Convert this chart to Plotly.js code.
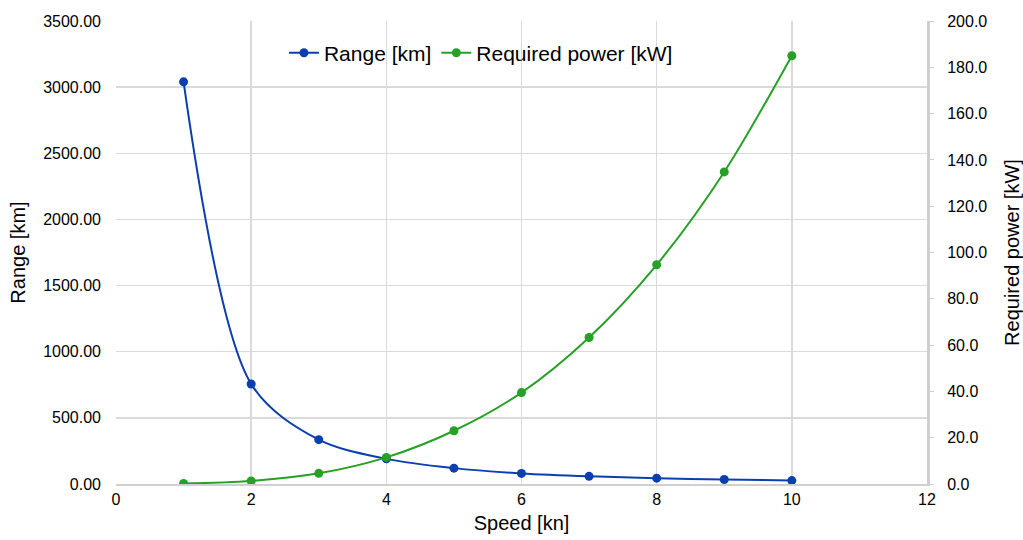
<!DOCTYPE html>
<html><head><meta charset="utf-8">
<script src="https://cdn.plot.ly/plotly-3.0.1.min.js"></script>
<style>html,body{margin:0;padding:0;background:#fff;}#chart{width:1023px;height:540px;}</style>
</head><body><div id="chart"></div>
<script>
const speed = [1,2,3,4,5,6,7,8,9,10];
const rangeKm = [3040, 756, 335, 190, 120, 80, 58, 44, 34, 26];
const powerKw = [0.2, 1.3, 4.6, 11.5, 23.0, 39.5, 63.3, 94.7, 134.8, 185.0];
const leftTicks = [0,500,1000,1500,2000,2500,3000,3500];
const rightTicks = [0,20,40,60,80,100,120,140,160,180,200];
const fnt = {family:'Liberation Sans, Arial, sans-serif', color:'#000'};
const traces = [
 {x:speed, y:rangeKm, name:'Range [km]', type:'scatter', mode:'lines+markers',
  line:{color:'#0b3fae', width:2, shape:'spline', smoothing:0.9}, marker:{color:'#0b3fae', size:9}, yaxis:'y'},
 {x:speed, y:powerKw, name:'Required power [kW]', type:'scatter', mode:'lines+markers',
  line:{color:'#26a026', width:2, shape:'spline', smoothing:0.9}, marker:{color:'#26a026', size:9}, yaxis:'y2'}
];
const layout = {
 width:1023, height:540, margin:{l:116, r:96, t:21, b:56},
 paper_bgcolor:'#fff', plot_bgcolor:'#fff', showlegend:true,
 font:Object.assign({size:16}, fnt),
 legend:{orientation:'h', x:0.45, y:0.975, xanchor:'center', yanchor:'top', font:Object.assign({size:21}, fnt), bgcolor:'rgba(0,0,0,0)', itemwidth:30},
 xaxis:{range:[0,12], tickvals:[0,2,4,6,8,10,12], ticktext:['0','2','4','6','8','10','12'],
  showgrid:true, gridcolor:'#dadada', gridwidth:1.5, zeroline:false, showline:true, linecolor:'#d0d0d0', linewidth:2,
  ticks:'', tickfont:Object.assign({size:16}, fnt),
  title:{text:'Speed [kn]', font:Object.assign({size:20}, fnt), standoff:9}},
 yaxis:{range:[0,3500], tickvals:leftTicks, ticktext:leftTicks.map(v=>v.toFixed(2)),
  showgrid:true, gridcolor:'#dadada', gridwidth:1.5, zeroline:false, showline:false,
  ticks:'', ticklabelstandoff:14, tickfont:Object.assign({size:16}, fnt),
  title:{text:'Range [km]', font:Object.assign({size:20}, fnt), standoff:12}},
 yaxis2:{range:[0,200], overlaying:'y', side:'right', tickvals:rightTicks, ticktext:rightTicks.map(v=>v.toFixed(1)),
  showgrid:false, zeroline:false, showline:true, linecolor:'#cfcfcf', linewidth:3,
  ticks:'outside', ticklen:4, tickcolor:'#cfcfcf', tickwidth:1, ticklabelstandoff:10, tickfont:Object.assign({size:16}, fnt),
  title:{text:'Required power [kW]', font:Object.assign({size:20}, fnt), standoff:20}}
};
Plotly.newPlot('chart', traces, layout, {displayModeBar:false, staticPlot:true});
</script></body></html>
